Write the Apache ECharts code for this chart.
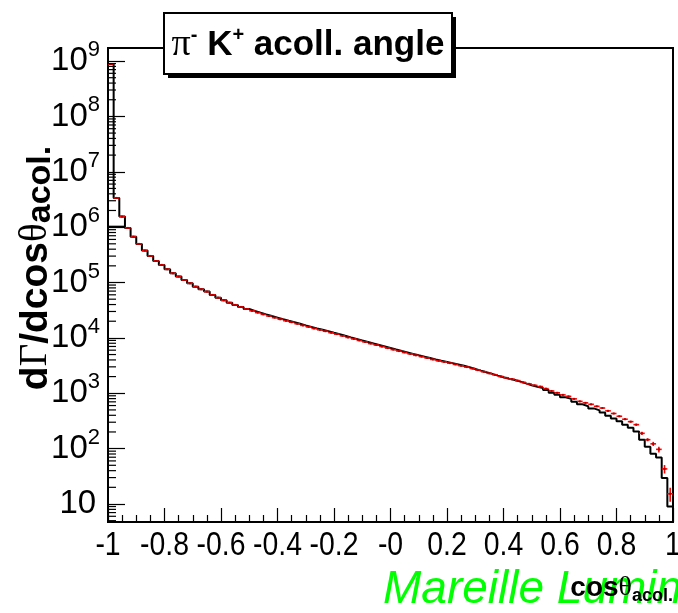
<!DOCTYPE html>
<html><head><meta charset="utf-8">
<script src="https://cdn.jsdelivr.net/npm/echarts@6/dist/echarts.min.js"></script>
<style>html,body{margin:0;padding:0;background:#fff}#c{width:678px;height:613px}</style>
</head><body><div id="c"></div>
<script>
// ---- data ----
const xMin = -1, xMax = 1, binWidth = 0.02;
const xTickValues = [-1, -0.8, -0.6, -0.4, -0.2, 0, 0.2, 0.4, 0.6, 0.8, 1];
const xTickLabels = ['-1','-0.8','-0.6','-0.4','-0.2','-0','0.2','0.4','0.6','0.8','1'];
const yMin = 4.73, yMax = 1.72e9;
// red points (data) per bin
const redValues = [
 8.83e8, 3.37e6, 1.55e6, 9.68e5, 6.73e5, 4.98e5, 3.77e5, 3.02e5, 2.45e5, 2.08e5,
 1.74e5, 1.47e5, 1.28e5, 1.11e5, 9.7e4, 8.43e4, 7.57e4, 6.85e4, 5.97e4, 5.32e4,
 4.78e4, 4.32e4, 3.94e4, 3.62e4, 3.33e4, 3.08e4, 2.86e4, 2.66e4, 2.48e4, 2.32e4,
 2.17e4, 2.04e4, 1.92e4, 1.80e4, 1.68e4, 1.58e4, 1.48e4, 1.40e4, 1.32e4, 1.24e4,
 1.17e4, 1.09e4, 1.02e4, 9.6e3, 9.0e3, 8.45e3, 7.9e3, 7.43e3, 6.98e3, 6.55e3,
 6.15e3, 5.78e3, 5.46e3, 5.14e3, 4.85e3, 4.59e3, 4.33e3, 4.08e3, 3.86e3, 3.69e3,
 3.50e3, 3.32e3, 3.14e3, 2.97e3, 2.80e3, 2.62e3, 2.45e3, 2.29e3, 2.15e3, 2.01e3,
 1.90e3, 1.80e3, 1.69e3, 1.57e3, 1.48e3, 1.39e3, 1.32e3, 1.21e3, 1.10e3, 1.02e3,
 935, 879, 792, 714, 671, 631, 581, 541, 481, 431,
 384, 340, 307, 271, 189, 145, 122, 97, 43, 15.3
];
// red vertical errors for the last ten bins (bins 90..99)
const redErrTail = [10, 10, 10, 10, 12, 9, 10.5, 11.5, 7.5, 4.3];
// black histogram per bin
const blackValues = [
 8.83e8, 3.37e6, 1.55e6, 9.68e5, 6.73e5, 4.98e5, 3.77e5, 3.02e5, 2.45e5, 2.08e5,
 1.74e5, 1.47e5, 1.28e5, 1.11e5, 9.7e4, 8.43e4, 7.57e4, 6.85e4, 5.97e4, 5.32e4,
 4.78e4, 4.32e4, 3.94e4, 3.62e4, 3.33e4, 3.08e4, 2.86e4, 2.66e4, 2.48e4, 2.32e4,
 2.17e4, 2.04e4, 1.92e4, 1.80e4, 1.68e4, 1.58e4, 1.48e4, 1.40e4, 1.32e4, 1.24e4,
 1.17e4, 1.09e4, 1.02e4, 9.6e3, 9.0e3, 8.45e3, 7.9e3, 7.43e3, 6.98e3, 6.55e3,
 6.15e3, 5.78e3, 5.46e3, 5.14e3, 4.85e3, 4.59e3, 4.33e3, 4.08e3, 3.86e3, 3.69e3,
 3.50e3, 3.32e3, 3.14e3, 2.95e3, 2.75e3, 2.56e3, 2.39e3, 2.24e3, 2.08e3, 1.95e3,
 1.82e3, 1.73e3, 1.62e3, 1.51e3, 1.39e3, 1.31e3, 1.24e3, 1.14e3, 1.02e3, 935,
 843, 792, 700, 631, 581, 533, 491, 449, 391, 349,
 311, 271, 239, 204, 144, 108, 80.5, 69, 29.4, 9.0
];
// extra black segment near cos = -1
const blackLowSegment = [[-1, 1.02e6], [-0.94, 1.02e6]];

// ---- build ----
const redData = redValues.map((v, i) => {
  const t = i - (redValues.length - redErrTail.length);
  return [xMin + (i + 0.5) * binWidth, v, t >= 0 ? redErrTail[t] : 0];
});
const blackData = blackValues.map((v, i) => [xMin + i * binWidth, v]);
blackData.push([xMax, blackValues[blackValues.length - 1]]);
const minorTickVals = [];
for (let d = 0; d <= 9; d++) for (let m = 2; m <= 9; m++) {
  const v = m * Math.pow(10, d);
  if (v > yMin && v < yMax) minorTickVals.push([xMin, v]);
}
const xLabelData = xTickValues.map((v, i) => [v, yMin, i]);

const chart = echarts.init(document.getElementById('c'), null, {renderer: 'canvas'});
const FONT = 'Liberation Sans';
chart.setOption({
  animation: false,
  backgroundColor: '#fff',
  grid: {left: 108, top: 48, width: 565, height: 474, show: true, borderColor: '#000', borderWidth: 2, backgroundColor: 'transparent'},
  xAxis: {
    type: 'value', min: xMin, max: xMax, interval: 0.2,
    axisLine: {show: true, onZero: false, lineStyle: {color: '#000', width: 2}},
    axisTick: {show: true, inside: true, length: 14, lineStyle: {color: '#000', width: 1.2}},
    minorTick: {show: true, splitNumber: 4, length: 7, lineStyle: {color: '#000', width: 1.2}},
    splitLine: {show: false},
    axisLabel: {show: false}
  },
  yAxis: {
    type: 'log', logBase: 10, min: yMin, max: yMax,
    axisLine: {show: true, onZero: false, lineStyle: {color: '#000', width: 2}},
    axisTick: {show: true, inside: true, length: 17, lineStyle: {color: '#000', width: 1.2}},
    splitLine: {show: false},
    axisLabel: {
      margin: 8, color: '#000', showMinLabel: false, showMaxLabel: false,
      formatter: v => {
        const e = Math.log10(v);
        if (Math.abs(e - Math.round(e)) > 1e-6) return '';
        const n = Math.round(e);
        if (n === 1) return '{b|10}{sp| }';
        return '{b|10}{e|' + n + '}';
      },
      rich: {
        b: {fontFamily: FONT, fontSize: 33, color: '#000', lineHeight: 44},
        e: {fontFamily: FONT, fontSize: 22, color: '#000', lineHeight: 18, verticalAlign: 'top'},
        sp: {fontFamily: FONT, fontSize: 14, lineHeight: 44}
      }
    }
  },
  series: [
    {
      type: 'line', data: blackData, step: 'end', symbol: 'none', z: 2,
      lineStyle: {color: '#000', width: 2}
    },
    {
      type: 'line', data: blackLowSegment, symbol: 'none', z: 2,
      lineStyle: {color: '#000', width: 2}
    },
    {
      type: 'custom', z: 3, data: redData, encode: {x: 0, y: 1},
      renderItem: (params, api) => {
        const xc = api.value(0), v = api.value(1), e = api.value(2);
        const l = api.coord([xc - binWidth / 2, v]);
        const r = api.coord([xc + binWidth / 2, v]);
        const c = api.coord([xc, v]);
        const ch = [{type: 'line', shape: {x1: l[0], y1: l[1], x2: r[0], y2: r[1]}, style: {stroke: '#ff0000', lineWidth: 1.6}}];
        if (e > 0) {
          const t = api.coord([xc, v + e]), b = api.coord([xc, v - e]);
          ch.push({type: 'line', shape: {x1: t[0], y1: t[1], x2: b[0], y2: b[1]}, style: {stroke: '#ff0000', lineWidth: 1.6}});
        }
        ch.push({type: 'rect', shape: {x: c[0] - 1, y: c[1] - 1, width: 2, height: 2}, style: {fill: '#b00000'}});
        return {type: 'group', children: ch};
      }
    },
    {
      type: 'custom', z: 4, data: minorTickVals, encode: {x: 0, y: 1}, silent: true,
      renderItem: (params, api) => {
        const p = api.coord([api.value(0), api.value(1)]);
        return {type: 'line', shape: {x1: p[0], y1: p[1], x2: p[0] + 8, y2: p[1]}, style: {stroke: '#000', lineWidth: 1.2}};
      }
    },
    {
      type: 'custom', z: 5, data: xLabelData, encode: {x: 0, y: 1}, silent: true, clip: false,
      renderItem: (params, api) => {
        const p = api.coord([api.value(0), api.value(1)]);
        return {type: 'text', x: p[0], y: p[1] + 7, scaleX: 0.86, style: {
          text: xTickLabels[api.value(2)], fill: '#000', fontFamily: FONT, fontSize: 33,
          align: 'center', verticalAlign: 'top'
        }};
      }
    }
  ],
  graphic: [
    {type: 'rect', z: 10, shape: {x: 168, y: 17, width: 288, height: 61}, style: {fill: '#000'}},
    {type: 'rect', z: 11, shape: {x: 164, y: 13, width: 288, height: 61}, style: {fill: '#fff', stroke: '#000', lineWidth: 2}},
    {type: 'text', z: 12, x: 308, y: 45, style: {
      text: '{p|π}{sup|-}{b| K}{sup|+}{b| acoll. angle}',
      align: 'center', verticalAlign: 'middle',
      rich: {
        p: {fontFamily: 'Liberation Serif', fontSize: 38, fill: '#000', lineHeight: 40},
        b: {fontFamily: FONT, fontWeight: 'bold', fontSize: 35, fill: '#000', lineHeight: 40},
        sup: {fontFamily: FONT, fontWeight: 'bold', fontSize: 20, fill: '#000', lineHeight: 22, verticalAlign: 'top'}
      }
    }},
    {type: 'text', z: 20, x: 383, y: 590, style: {
      text: 'Mareille Lumin', fill: '#00ff00', fontFamily: FONT, fontStyle: 'italic', fontSize: 46,
      align: 'left', verticalAlign: 'middle'
    }},
    {type: 'text', z: 21, x: 673, y: 588, style: {
      text: '{b|cos}{t|θ}{s|acol.}', align: 'right', verticalAlign: 'middle',
      rich: {
        b: {fontFamily: FONT, fontWeight: 'bold', fontSize: 28, fill: '#000', lineHeight: 34},
        t: {fontFamily: 'Liberation Serif', fontSize: 28, fill: '#000', lineHeight: 34},
        s: {fontFamily: FONT, fontWeight: 'bold', fontSize: 18, fill: '#000', lineHeight: 20, verticalAlign: 'bottom'}
      }
    }},
    {type: 'text', z: 21, x: 36, y: 268, rotation: Math.PI / 2, style: {
      text: '{b|d}{g|Γ}{b|/dcos}{g|θ}{s|acol.}', align: 'center', verticalAlign: 'middle',
      rich: {
        b: {fontFamily: FONT, fontWeight: 'bold', fontSize: 39, fill: '#000', lineHeight: 44},
        g: {fontFamily: 'Liberation Serif', fontSize: 39, fill: '#000', lineHeight: 44},
        s: {fontFamily: FONT, fontWeight: 'bold', fontSize: 34, fill: '#000', lineHeight: 30, verticalAlign: 'bottom'}
      }
    }}
  ]
});
</script>
</body></html>
